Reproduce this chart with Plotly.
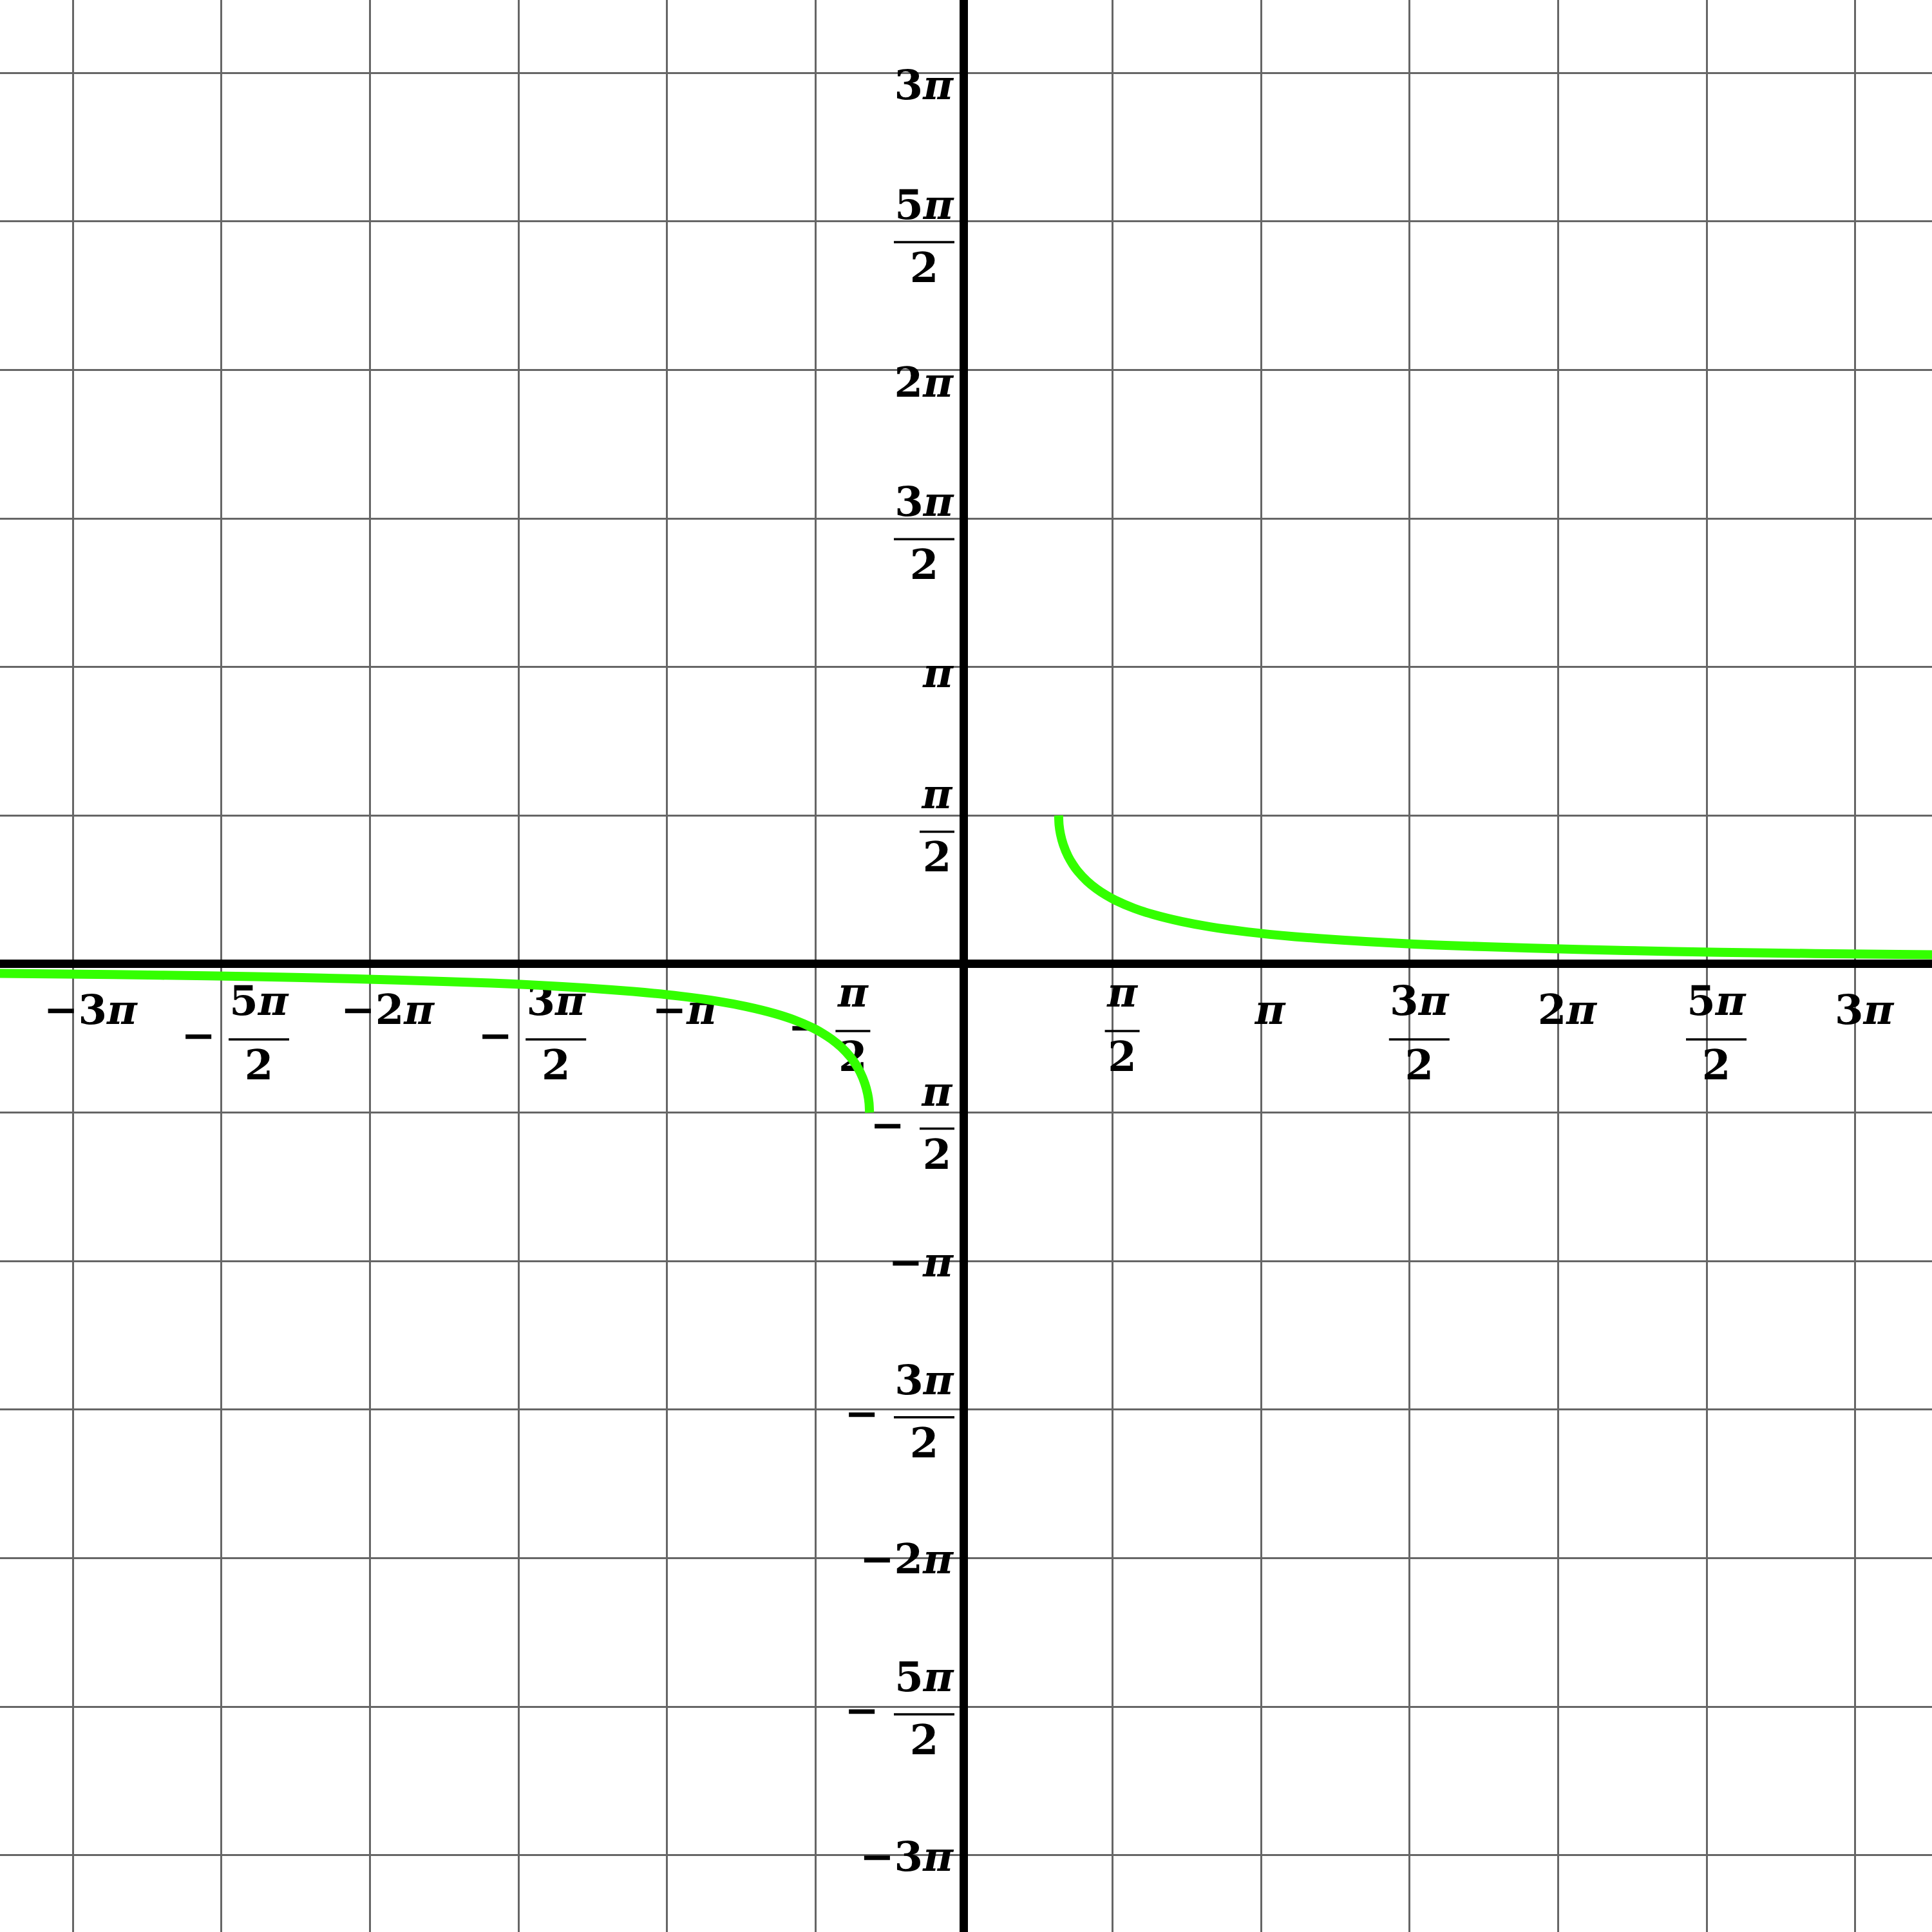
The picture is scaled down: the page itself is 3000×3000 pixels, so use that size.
import numpy as np
import plotly.graph_objects as go

# ticks / grid sit on multiples of pi/2
half_pi_steps = [-6, -5, -4, -3, -2, -1, 1, 2, 3, 4, 5, 6]
tick_labels = ["−3π", "−5π/2", "−2π", "−3π/2", "−π", "−π/2",
               "π/2", "π", "3π/2", "2π", "5π/2", "3π"]

# green curve, points
right_x = [1.0, 1.005, 1.02, 1.05, 1.1, 1.15, 1.2, 1.3, 1.4, 1.5, 1.6, 1.8,
           2.0, 2.3, 2.6, 3.0, 3.5, 4.0, 4.5, 5.0, 6.0, 7.0, 8.0, 9.0, 10.24]
right_y = [1.571, 1.471, 1.373, 1.262, 1.141, 1.055, 0.985, 0.878, 0.796, 0.730,
           0.675, 0.589, 0.524, 0.450, 0.394, 0.340, 0.290, 0.253, 0.224, 0.201,
           0.168, 0.143, 0.125, 0.111, 0.098]
left_x = [-10.2, -9.0, -8.0, -7.0, -6.0, -5.0, -4.5, -4.0, -3.5, -3.0, -2.6, -2.3,
          -2.0, -1.8, -1.6, -1.5, -1.4, -1.3, -1.2, -1.15, -1.1, -1.05, -1.02,
          -1.005, -1.0]
left_y = [-0.098, -0.111, -0.125, -0.143, -0.168, -0.201, -0.224, -0.253, -0.290,
          -0.340, -0.394, -0.450, -0.524, -0.589, -0.675, -0.730, -0.796, -0.878,
          -0.985, -1.055, -1.141, -1.262, -1.373, -1.471, -1.571]

x_range = [-10.197, 10.238]
y_range = [-10.238, 10.197]
SIZE = 3000
unit = SIZE / (x_range[1] - x_range[0])  # pixels per data unit


def px(n):
    return n / unit


def fmt(s):
    # slanted pi like the math font in the original
    return s.replace("π", "<i>π</i>")


tick_vals = [k * np.pi / 2 for k in half_pi_steps]
grid_vals = [k * np.pi / 2 for k in range(-6, 7)]

lab_x, lab_y, lab_t, lab_pos = [], [], [], []
bars = []


def add_text(x, y, t, pos="middle center"):
    lab_x.append(x)
    lab_y.append(y)
    lab_t.append(fmt(t))
    lab_pos.append(pos)


def add_bar(cx, cy, w):
    bars.append(dict(type="line", xref="x", yref="y", layer="between",
                     x0=cx - px(w / 2), x1=cx + px(w / 2), y0=cy, y1=cy,
                     line=dict(color="black", width=3.5)))


for v, lab in zip(tick_vals, tick_labels):
    neg = lab.startswith("−")
    body = lab.lstrip("−")
    if "/" not in body:
        # label under the x axis
        add_text(v + px(27 if neg else 14), -px(77), lab)
        # label left of the y axis
        drop = 8 if neg else (15 if body == "π" else 25)
        add_text(-px(17), v - px(drop), lab, "middle left")
        continue

    num, den = body.split("/")
    wide = len(num) > 1
    w = 94 if wide else 54

    # x axis fraction
    bx = v + px(58 if neg else 15)
    by = -px(117 if wide else 104)
    add_bar(bx, by, w)
    add_text(bx, by + px(54), num)
    add_text(bx, by - px(46), den)
    if neg:
        add_text(bx - px(w / 2 + 47), by, "−")

    # y axis fraction
    bx = -px(15 + w / 2)
    if neg:
        drop = 12 if wide else 25
    else:
        drop = 32 if wide else 25
    by = v - px(drop)
    add_bar(bx, by, w)
    add_text(bx, by + px(52), num)
    add_text(bx, by - px(46), den)
    if neg:
        add_text(bx - px(w / 2 + 50), by, "−")

fig = go.Figure()

# labels go in first so the curve is drawn over them
fig.add_trace(go.Scatter(
    x=lab_x, y=lab_y, text=lab_t, mode="text", textposition=lab_pos,
    textfont=dict(family="DejaVu Serif", size=64, color="black", weight="bold"),
    hoverinfo="skip", showlegend=False, cliponaxis=False))

for cx, cy in [(left_x, left_y), (right_x, right_y)]:
    fig.add_trace(go.Scatter(
        x=cx, y=cy, mode="lines",
        line=dict(color="#33ff00", width=14, shape="spline", smoothing=0.6),
        hoverinfo="skip", showlegend=False))

axis_style = dict(
    tickvals=grid_vals, showticklabels=False, ticks="",
    showgrid=True, gridcolor="#666666", gridwidth=3,
    zeroline=True, zerolinecolor="black", zerolinewidth=13,
    showline=False, fixedrange=True,
)

fig.update_layout(
    width=SIZE, height=SIZE,
    margin=dict(l=0, r=0, t=0, b=0),
    paper_bgcolor="white", plot_bgcolor="white",
    xaxis=dict(range=x_range, **axis_style),
    yaxis=dict(range=y_range, **axis_style),
    shapes=bars,
)

fig.write_html("out.html",
               config={"displayModeBar": False},
               post_script="document.body.style.margin='0';"
                           "document.body.style.overflow='hidden';")
